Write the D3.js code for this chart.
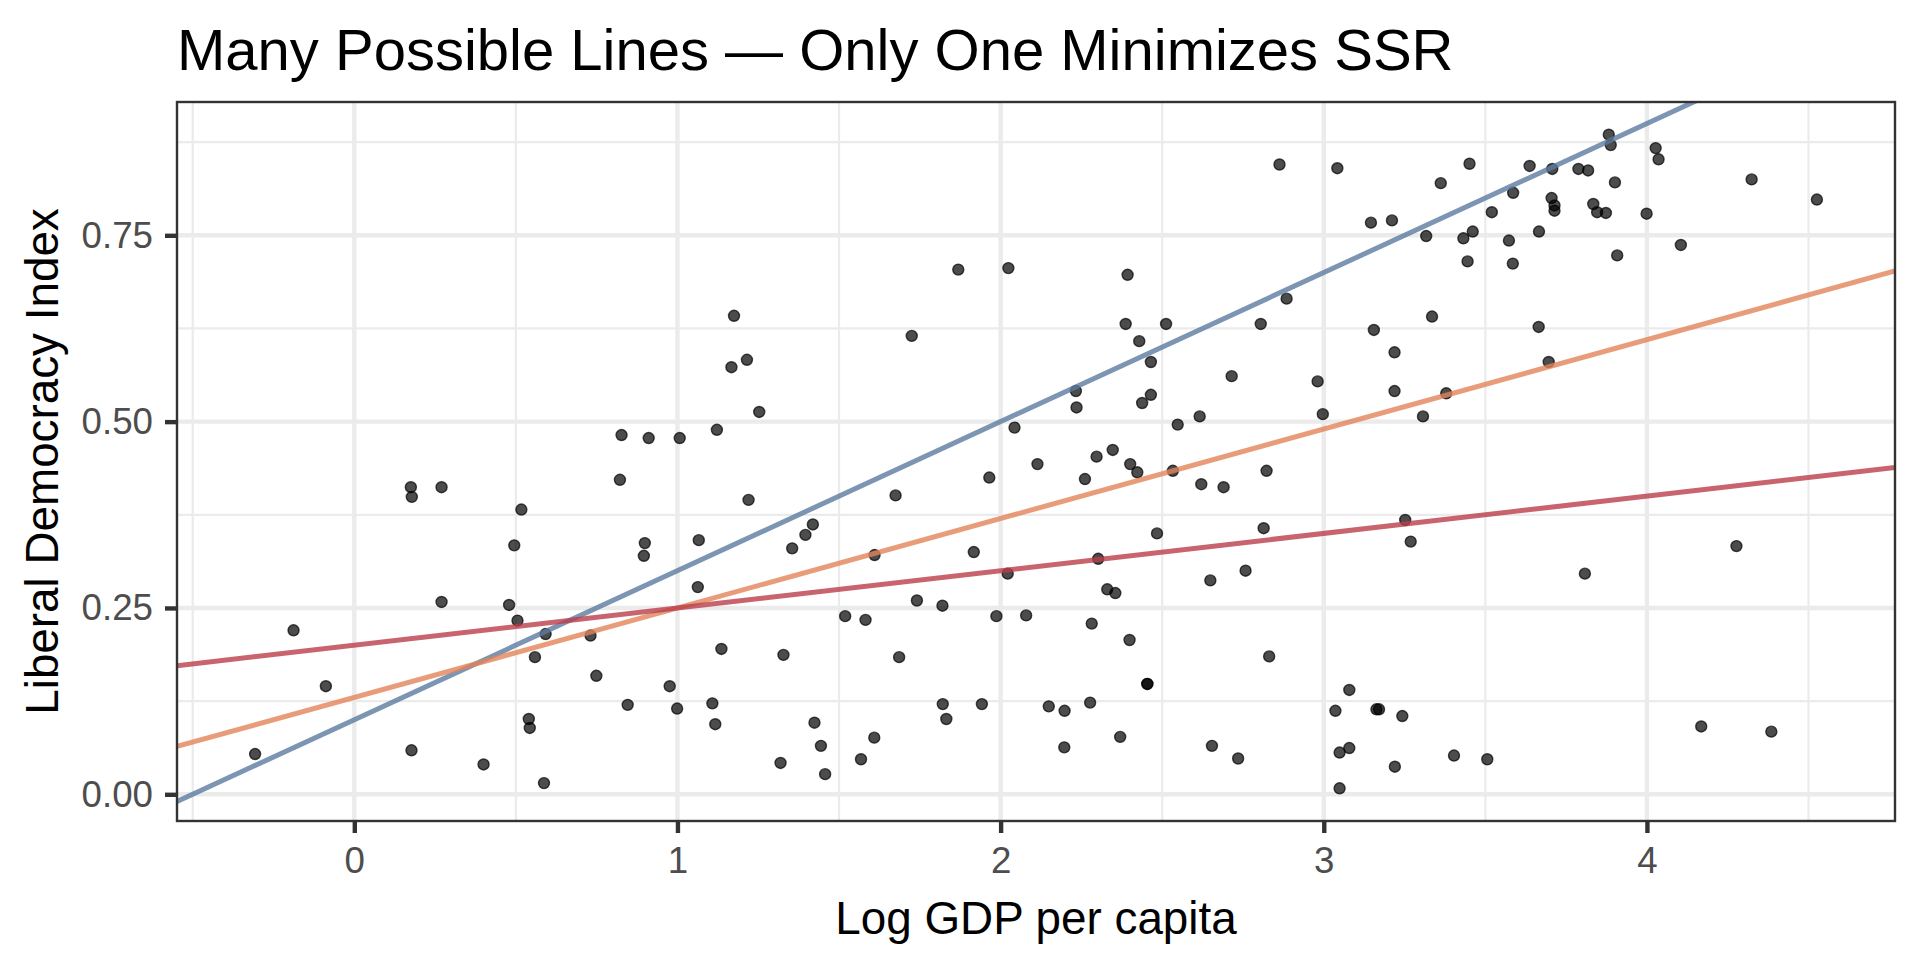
<!DOCTYPE html>
<html>
<head>
<meta charset="utf-8">
<script src="https://cdn.jsdelivr.net/npm/d3@7"></script>
<style>
  html, body { margin: 0; padding: 0; background: #fff; }
  svg { display: block; font-family: "Liberation Sans", Arial, Helvetica, sans-serif; }
</style>
</head>
<body>
<svg id="chart" width="1920" height="960"></svg>
<script>
// Scatter data
const gdp = [
  -0.307, -0.188, -0.088, 0.517, 0.495, 0.899, 0.896, 0.270, 0.479, 0.505,
  0.592, 0.731, 0.559, 0.749, 0.846, 0.540, 0.543, 0.177, 0.400, 0.587,
  0.175, 0.178, 0.270, 0.827, 0.911, 0.822, 1.007, 1.122, 1.175, 1.167,
  1.215, 1.253, 1.220, 1.725, 1.869, 2.024, 2.233, 2.235, 2.043, 1.965,
  2.114, 2.261, 2.297, 1.675, 1.419, 1.066, 1.063, 1.355, 1.396, 1.610,
  1.917, 2.022, 2.302, 0.976, 0.999, 1.136, 1.108, 1.117, 1.328, 1.319,
  1.424, 1.444, 1.457, 1.519, 1.582, 1.568, 1.609, 1.686, 1.741, 1.820,
  1.821, 1.832, 1.942, 1.987, 2.079, 2.149, 2.198, 2.197, 2.277, 2.282,
  2.863, 3.042, 3.362, 3.451, 3.637, 3.586, 3.520, 3.146, 3.211, 3.317,
  3.432, 3.461, 3.573, 3.666, 3.445, 3.585, 2.393, 2.885, 2.387, 2.512,
  2.805, 2.429, 2.465, 3.335, 3.155, 3.665, 3.219, 3.696, 2.465, 2.438,
  2.715, 2.981, 3.219, 3.379, 2.997, 3.307, 2.548, 2.616, 2.347, 2.401,
  2.423, 2.533, 2.621, 2.690, 2.823, 3.252, 2.484, 2.330, 2.355, 2.399,
  2.649, 2.758, 2.814, 2.831, 3.269, 2.454, 2.454, 2.370, 2.654, 2.735,
  3.079, 3.036, 3.163, 3.171, 3.243, 3.079, 3.049, 3.220, 3.049, 3.403,
  3.506, 3.882, 3.888, 4.027, 4.036, 3.707, 3.788, 3.818, 3.901, 4.324,
  4.526, 3.705, 3.714, 3.714, 3.834, 3.846, 3.873, 3.999, 3.908, 4.105,
  3.808, 4.277, 4.168, 4.385
];
const democracy = [
  0.054, 0.220, 0.145, 0.382, 0.334, 0.337, 0.320, 0.258, 0.254, 0.233,
  0.215, 0.213, 0.184, 0.159, 0.120, 0.101, 0.089, 0.059, 0.040, 0.015,
  0.412, 0.399, 0.412, 0.482, 0.478, 0.422, 0.478, 0.489, 0.642, 0.573,
  0.583, 0.513, 0.395, 0.615, 0.704, 0.706, 0.541, 0.519, 0.492, 0.425,
  0.443, 0.423, 0.453, 0.401, 0.362, 0.341, 0.278, 0.330, 0.348, 0.321,
  0.325, 0.296, 0.316, 0.145, 0.115, 0.195, 0.122, 0.094, 0.187, 0.042,
  0.096, 0.065, 0.027, 0.239, 0.234, 0.047, 0.076, 0.184, 0.260, 0.253,
  0.121, 0.101, 0.121, 0.239, 0.240, 0.118, 0.112, 0.063, 0.123, 0.229,
  0.845, 0.840, 0.820, 0.846, 0.843, 0.807, 0.781, 0.767, 0.770, 0.749,
  0.746, 0.755, 0.743, 0.755, 0.715, 0.712, 0.697, 0.665, 0.631, 0.631,
  0.631, 0.608, 0.580, 0.641, 0.623, 0.627, 0.593, 0.580, 0.536, 0.525,
  0.561, 0.554, 0.541, 0.538, 0.510, 0.507, 0.496, 0.507, 0.462, 0.443,
  0.432, 0.434, 0.416, 0.412, 0.434, 0.368, 0.350, 0.275, 0.270, 0.207,
  0.287, 0.300, 0.357, 0.185, 0.339, 0.148, 0.148, 0.077, 0.065, 0.048,
  0.140, 0.112, 0.114, 0.114, 0.105, 0.062, 0.056, 0.037, 0.008, 0.052,
  0.047, 0.885, 0.871, 0.867, 0.852, 0.839, 0.839, 0.837, 0.821, 0.825,
  0.798, 0.800, 0.790, 0.783, 0.792, 0.781, 0.780, 0.779, 0.723, 0.737,
  0.296, 0.333, 0.091, 0.084
];

// Candidate lines: y = intercept + slope * x
const lineIntercepts = [0.10, 0.13, 0.20];
const lineSlopes = [0.20, 0.12, 0.05];

const xTicks = [0, 1, 2, 3, 4];
const yTicks = [0, 0.25, 0.5, 0.75];
const xMinor = [-0.5, 0.5, 1.5, 2.5, 3.5, 4.5];
const yMinor = [0.125, 0.375, 0.625, 0.875];

const lineColors = ["#5B7BA0", "#E28359", "#BA3D4A"];

const margin = { top: 102, right: 25, bottom: 139, left: 177 };
const width = 1920 - margin.left - margin.right;
const height = 960 - margin.top - margin.bottom;

const svg = d3.select("#chart");
svg.append("rect").attr("width", 1920).attr("height", 960).attr("fill", "#fff");

// ggplot-style 5% expansion
const xExt = d3.extent(gdp), yExt = d3.extent(democracy);
const xPad = (xExt[1] - xExt[0]) * 0.05, yPad = (yExt[1] - yExt[0]) * 0.05;

const xScale = d3.scaleLinear()
  .domain([xExt[0] - xPad, xExt[1] + xPad])
  .range([0, width]);
const yScale = d3.scaleLinear()
  .domain([yExt[0] - yPad, yExt[1] + yPad])
  .range([height, 0]);

const g = svg.append("g").attr("transform", `translate(${margin.left},${margin.top})`);

g.append("clipPath").attr("id", "panel-clip")
  .append("rect").attr("width", width).attr("height", height);

// grid lines
const grid = g.append("g").attr("clip-path", "url(#panel-clip)");
grid.selectAll(".xminor").data(xMinor).enter().append("line")
  .attr("x1", d => xScale(d)).attr("x2", d => xScale(d))
  .attr("y1", 0).attr("y2", height)
  .attr("stroke", "#EBEBEB").attr("stroke-width", 2.2);
grid.selectAll(".yminor").data(yMinor).enter().append("line")
  .attr("y1", d => yScale(d)).attr("y2", d => yScale(d))
  .attr("x1", 0).attr("x2", width)
  .attr("stroke", "#EBEBEB").attr("stroke-width", 2.2);
grid.selectAll(".xmajor").data(xTicks).enter().append("line")
  .attr("x1", d => xScale(d)).attr("x2", d => xScale(d))
  .attr("y1", 0).attr("y2", height)
  .attr("stroke", "#EBEBEB").attr("stroke-width", 4.4);
grid.selectAll(".ymajor").data(yTicks).enter().append("line")
  .attr("y1", d => yScale(d)).attr("y2", d => yScale(d))
  .attr("x1", 0).attr("x2", width)
  .attr("stroke", "#EBEBEB").attr("stroke-width", 4.4);

// points
const pts = d3.zip(gdp, democracy);
g.append("g").attr("clip-path", "url(#panel-clip)")
  .selectAll("circle").data(pts).enter().append("circle")
  .attr("cx", d => xScale(d[0]))
  .attr("cy", d => yScale(d[1]))
  .attr("r", 5.5)
  .attr("fill", "#000").attr("fill-opacity", 0.7)
  .attr("stroke", "#000").attr("stroke-opacity", 0.7).attr("stroke-width", 1.4);

// candidate lines
const [x0, x1] = xScale.domain();
g.append("g").attr("clip-path", "url(#panel-clip)")
  .selectAll("line.fit").data(d3.range(lineIntercepts.length)).enter().append("line")
  .attr("x1", xScale(x0)).attr("x2", xScale(x1))
  .attr("y1", i => yScale(lineIntercepts[i] + lineSlopes[i] * x0))
  .attr("y2", i => yScale(lineIntercepts[i] + lineSlopes[i] * x1))
  .attr("stroke", i => lineColors[i])
  .attr("stroke-opacity", 0.8)
  .attr("stroke-width", 5);

// panel border
g.append("rect").attr("width", width).attr("height", height)
  .attr("fill", "none").attr("stroke", "#333").attr("stroke-width", 2.4);

// axes
const xAxis = g.append("g").attr("transform", `translate(0,${height})`)
  .call(d3.axisBottom(xScale).tickValues(xTicks).tickSize(12).tickPadding(14).tickFormat(d3.format("d")));
const yAxis = g.append("g")
  .call(d3.axisLeft(yScale).tickValues(yTicks).tickSize(12).tickPadding(12).tickFormat(d3.format(".2f")));
[xAxis, yAxis].forEach(ax => {
  ax.select(".domain").remove();
  ax.selectAll(".tick line").attr("stroke", "#333").attr("stroke-width", 4.4);
  ax.selectAll(".tick text").attr("fill", "#4D4D4D").style("font-size", "36.7px")
    .style("font-family", '"Liberation Sans", Arial, sans-serif');
});

// titles
svg.append("text").attr("x", margin.left).attr("y", 70)
  .attr("fill", "#000").style("font-size", "58px")
  .text("Many Possible Lines \u2014 Only One Minimizes SSR");

svg.append("text").attr("x", margin.left + width / 2).attr("y", 934)
  .attr("text-anchor", "middle").attr("fill", "#000").style("font-size", "45.8px")
  .text("Log GDP per capita");

svg.append("text")
  .attr("transform", `translate(58,${margin.top + height / 2}) rotate(-90)`)
  .attr("text-anchor", "middle").attr("fill", "#000").style("font-size", "45.8px")
  .text("Liberal Democracy Index");
</script>
</body>
</html>
